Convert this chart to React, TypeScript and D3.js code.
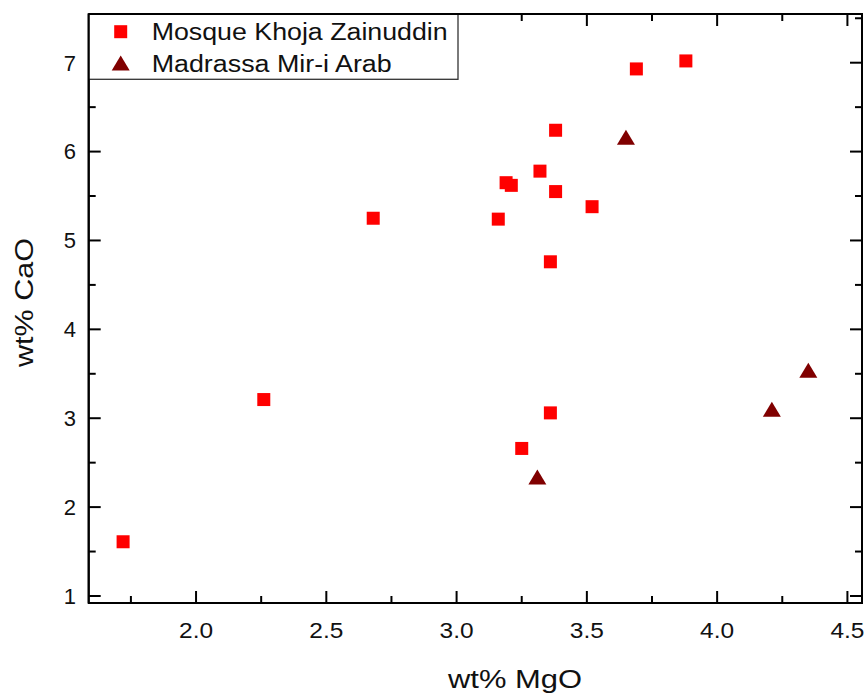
import React from "react";
import * as d3 from "d3";

const mosqueMgO = [1.72, 2.26, 2.68, 3.16, 3.19, 3.21, 3.25, 3.32, 3.36, 3.36, 3.38, 3.38, 3.52, 3.69, 3.88];
const mosqueCaO = [1.61, 3.21, 5.25, 5.24, 5.65, 5.62, 2.66, 5.78, 4.76, 3.06, 6.24, 5.55, 5.38, 6.93, 7.02];
const madrassaMgO = [3.31, 3.65, 4.21, 4.35];
const madrassaCaO = [2.34, 6.16, 3.1, 3.54];
const xTicks = [2.0, 2.5, 3.0, 3.5, 4.0, 4.5];
const yTicks = [1, 2, 3, 4, 5, 6, 7];
const seriesNames = ["Mosque Khoja Zainuddin", "Madrassa Mir-i Arab"];
const xDomain = [1.588, 4.556];
const yDomain = [0.921, 7.548];

const W = 867;
const H = 693;
const L = 88.7, R = 862, T = 14, B = 603;
const FONT = "'Liberation Sans', Arial, Helvetica, sans-serif";
const SQ = 13;
const TRI_W = 18, TRI_H = 15;

function triPath(cx: number, cy: number) {
  return `M${cx - TRI_W / 2},${cy + TRI_H / 2}L${cx + TRI_W / 2},${cy + TRI_H / 2}L${cx},${cy - TRI_H / 2}Z`;
}

export default function App() {
  const x = d3.scaleLinear().domain(xDomain).range([L, R]);
  const y = d3.scaleLinear().domain(yDomain).range([B, T]);
  const xMinor = d3.range(1.75, 4.56, 0.25).filter((v) => !xTicks.some((t) => Math.abs(t - v) < 1e-6));
  const yMinor = d3.range(1.5, 7.6, 1).filter((v) => v < yDomain[1]);
  const MAJ = 12, MIN = 7;
  const tickStyle = { stroke: "#000", strokeWidth: 2 };

  const mosque = mosqueMgO.map((v, i) => ({ x: v, y: mosqueCaO[i] }));
  const madrassa = madrassaMgO.map((v, i) => ({ x: v, y: madrassaCaO[i] }));

  return (
    <svg width={W} height={H} style={{ position: "absolute", left: 0, top: 0, background: "#fff" }} fontFamily={FONT}>
      <rect x={0} y={0} width={W} height={H} fill="#fff" />
      {/* ticks */}
      {xTicks.map((t) => (
        <g key={"xt" + t}>
          <line x1={x(t)} x2={x(t)} y1={B} y2={B - MAJ} {...tickStyle} />
          <line x1={x(t)} x2={x(t)} y1={T} y2={T + MAJ} {...tickStyle} />
          <text x={x(t)} y={637.5} textAnchor="middle" fontSize={21.5} textLength={34} lengthAdjust="spacingAndGlyphs" fill="#111">
            {t.toFixed(1)}
          </text>
        </g>
      ))}
      {xMinor.map((t) => (
        <g key={"xm" + t}>
          <line x1={x(t)} x2={x(t)} y1={B} y2={B - MIN} {...tickStyle} />
          <line x1={x(t)} x2={x(t)} y1={T} y2={T + MIN} {...tickStyle} />
        </g>
      ))}
      {yTicks.map((t) => (
        <g key={"yt" + t}>
          <line x1={L} x2={L + MAJ} y1={y(t)} y2={y(t)} {...tickStyle} />
          <line x1={R} x2={R - MAJ} y1={y(t)} y2={y(t)} {...tickStyle} />
          <text x={76} y={y(t) + 7.8} textAnchor="end" fontSize={22} fill="#111">
            {t}
          </text>
        </g>
      ))}
      {yMinor.map((t) => (
        <g key={"ym" + t}>
          <line x1={L} x2={L + MIN} y1={y(t)} y2={y(t)} {...tickStyle} />
          <line x1={R} x2={R - MIN} y1={y(t)} y2={y(t)} {...tickStyle} />
        </g>
      ))}
      {/* frame */}
      <rect x={L} y={T} width={R - L} height={B - T} fill="none" stroke="#000" strokeWidth={2} />
      {/* data */}
      {mosque.map((d, i) => (
        <rect key={"m" + i} x={x(d.x) - SQ / 2} y={y(d.y) - SQ / 2} width={SQ} height={SQ} fill="#FF0000" />
      ))}
      {madrassa.map((d, i) => (
        <path key={"d" + i} d={triPath(x(d.x), y(d.y))} fill="#800000" />
      ))}
      {/* legend */}
      <rect x={L} y={T} width={458 - L} height={79.3 - T} fill="#fff" stroke="#333" strokeWidth={1.3} />
      <rect x={120.7 - SQ / 2} y={31.7 - SQ / 2} width={SQ} height={SQ} fill="#FF0000" />
      <path d={triPath(120.7, 63)} fill="#800000" />
      <text x={151.7} y={39.5} fontSize={24.7} textLength={296} lengthAdjust="spacingAndGlyphs" fill="#111">
        {seriesNames[0]}
      </text>
      <text x={151.7} y={71.7} fontSize={24.7} textLength={240} lengthAdjust="spacingAndGlyphs" fill="#111">
        {seriesNames[1]}
      </text>
      {/* frame top/left redraw over legend */}
      <line x1={L} x2={R} y1={T} y2={T} stroke="#000" strokeWidth={2} />
      <line x1={L} x2={L} y1={T} y2={B} stroke="#000" strokeWidth={2} />
      {/* axis titles */}
      <text x={448} y={687.5} fontSize={25} textLength={134} lengthAdjust="spacingAndGlyphs" fill="#111">
        wt% MgO
      </text>
      <text
        transform={`translate(33,367) rotate(-90)`}
        x={0}
        y={0}
        fontSize={25.5}
        textLength={129}
        lengthAdjust="spacingAndGlyphs"
        fill="#111"
      >
        wt% CaO
      </text>
    </svg>
  );
}
